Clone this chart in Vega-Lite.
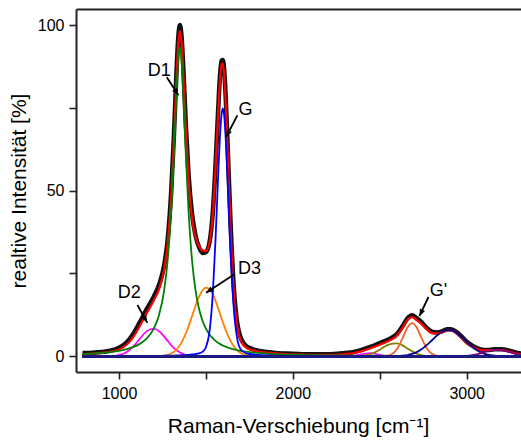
{
  "$schema": "https://vega.github.io/schema/vega-lite/v6.json",
  "width": 445,
  "height": 363,
  "autosize": {"type": "none"},
  "padding": {"left": 76, "top": 9, "right": 0, "bottom": 69},
  "background": "white",
  "config": {
    "view": {"stroke": null},
    "font": "Liberation Sans",
    "axis": {
      "grid": false,
      "domainColor": "#222222",
      "domainWidth": 2,
      "tickColor": "#222222",
      "tickWidth": 1.6,
      "labelColor": "black",
      "labelFont": "Liberation Sans",
      "labelFontSize": 16,
      "titleColor": "black",
      "titleFont": "Liberation Sans",
      "titleFontSize": 21,
      "titleFontWeight": "normal"
    }
  },
  "datasets": {
    "s": [
      {"x":790,"meas":1.0,"fit":0.68,"D1":0.65,"G":0.03},
      {"x":850,"meas":1.1,"fit":0.85,"D1":0.82,"G":0.03},
      {"x":900,"meas":1.3,"fit":1.06,"D1":1.01,"G":0.04,"D2":0.01},
      {"x":950,"meas":1.7,"fit":1.37,"D1":1.27,"G":0.04,"D2":0.06},
      {"x":1000,"meas":2.6,"fit":2.07,"D1":1.65,"G":0.05,"D2":0.37},
      {"x":1040,"meas":4.0,"fit":3.33,"D1":2.10,"G":0.06,"D2":1.17},
      {"x":1080,"meas":6.6,"fit":5.66,"D1":2.75,"G":0.07,"D2":2.84},
      {"x":1120,"meas":10.3,"fit":9.14,"D1":3.75,"G":0.09,"D2":5.30},
      {"x":1160,"meas":14.3,"fit":13.09,"D1":5.39,"G":0.10,"D2":7.60},
      {"x":1200,"meas":18.0,"fit":16.86,"D1":8.35,"G":0.11,"D2":8.38,"D3":0.02},
      {"x":1230,"meas":21.5,"fit":20.21,"D1":12.42,"G":0.13,"D2":7.60,"D3":0.06},
      {"x":1260,"meas":27.5,"fit":26.32,"D1":20.01,"G":0.16,"D2":5.94,"D3":0.21},
      {"x":1280,"meas":35.3,"fit":34.26,"D1":29.02,"G":0.18,"D2":4.64,"D3":0.42},
      {"x":1300,"meas":49.5,"fit":48.23,"D1":43.81,"G":0.20,"D2":3.39,"D3":0.83},
      {"x":1315,"meas":65.5,"fit":64.17,"D1":60.07,"G":0.22,"D2":2.57,"D3":1.31},
      {"x":1330,"meas":85.0,"fit":83.21,"D1":79.08,"G":0.25,"D2":1.88,"D3":2.00},
      {"x":1340,"meas":95.5,"fit":93.71,"D1":89.35,"G":0.27,"D2":1.49,"D3":2.60},
      {"x":1350,"meas":100.0,"fit":98.19,"D1":93.4,"G":0.29,"D2":1.17,"D3":3.33},
      {"x":1360,"meas":96.5,"fit":94.75,"D1":89.35,"G":0.31,"D2":0.90,"D3":4.19},
      {"x":1370,"meas":87.0,"fit":85.30,"D1":79.08,"G":0.34,"D2":0.68,"D3":5.20},
      {"x":1385,"meas":69.5,"fit":67.86,"D1":60.07,"G":0.38,"D2":0.43,"D3":6.98},
      {"x":1400,"meas":55.0,"fit":53.56,"D1":43.81,"G":0.44,"D2":0.27,"D3":9.04},
      {"x":1420,"meas":43.0,"fit":41.80,"D1":29.02,"G":0.55,"D2":0.13,"D3":12.1},
      {"x":1440,"meas":36.5,"fit":35.93,"D1":20.01,"G":0.68,"D2":0.06,"D3":15.18},
      {"x":1460,"meas":33.0,"fit":33.26,"D1":14.42,"G":0.90,"D2":0.03,"D3":17.91},
      {"x":1480,"meas":31.2,"fit":32.01,"D1":10.80,"G":1.34,"D2":0.01,"D3":19.86},
      {"x":1500,"meas":31.5,"fit":31.76,"D1":8.35,"G":2.72,"D3":20.69},
      {"x":1520,"meas":34.2,"fit":34.14,"D1":6.63,"G":7.27,"D3":20.24},
      {"x":1540,"meas":43.8,"fit":43.29,"D1":5.39,"G":19.3,"D3":18.6},
      {"x":1555,"meas":57.5,"fit":56.43,"D1":4.67,"G":35.0,"D3":16.76},
      {"x":1570,"meas":74.0,"fit":72.76,"D1":4.08,"G":54.1,"D3":14.58},
      {"x":1580,"meas":84.0,"fit":82.37,"D1":3.75,"G":65.6,"D3":13.02},
      {"x":1590,"meas":89.2,"fit":88.0,"D1":3.45,"G":73.1,"D3":11.45},
      {"x":1597,"meas":89.4,"fit":88.43,"D1":3.26,"G":74.8,"D3":10.37},
      {"x":1605,"meas":86.5,"fit":84.86,"D1":3.07,"G":72.6,"D3":9.19},
      {"x":1615,"meas":76.8,"fit":75.22,"D1":2.85,"G":64.6,"D3":7.77},
      {"x":1625,"meas":63.5,"fit":61.92,"D1":2.65,"G":52.8,"D3":6.47},
      {"x":1640,"meas":42.5,"fit":40.97,"D1":2.39,"G":33.8,"D3":4.78},
      {"x":1660,"meas":21.0,"fit":19.72,"D1":2.10,"G":14.6,"D3":3.02},
      {"x":1680,"meas":10.0,"fit":8.99,"D1":1.86,"G":5.34,"D3":1.79},
      {"x":1700,"meas":5.6,"fit":4.77,"D1":1.65,"G":2.12,"D3":1.00},
      {"x":1730,"meas":3.2,"fit":2.74,"D1":1.41,"G":0.96,"D3":0.37},
      {"x":1760,"meas":2.3,"fit":1.97,"D1":1.21,"G":0.64,"D3":0.12},
      {"x":1800,"meas":1.7,"fit":1.45,"D1":1.01,"G":0.42,"D3":0.02},
      {"x":1850,"meas":1.3,"fit":1.09,"D1":0.82,"G":0.27},
      {"x":1900,"meas":1.0,"fit":0.87,"D1":0.68,"G":0.19},
      {"x":2000,"meas":0.8,"fit":0.60,"D1":0.49,"G":0.11},
      {"x":2100,"meas":0.6,"fit":0.44,"D1":0.37,"G":0.07},
      {"x":2200,"meas":0.6,"fit":0.40,"D1":0.28,"G":0.05},
      {"x":2300,"meas":1.0,"fit":0.7,"D1":0.23,"G":0.04,"mag2":0.01,"olive":0.0},
      {"x":2350,"meas":1.3,"fit":1.0,"D1":0.21,"mag2":0.14,"olive":0.02},
      {"x":2400,"meas":2.0,"fit":1.6,"D1":0.19,"mag2":0.67,"olive":0.15},
      {"x":2450,"meas":2.9,"fit":2.5,"D1":0.18,"mag2":0.98,"olive":0.69,"Gp":0.0},
      {"x":2500,"meas":4.0,"fit":3.5,"D1":0.16,"mag2":0.41,"olive":1.99,"Gp":0.01},
      {"x":2550,"meas":5.1,"fit":4.6,"D1":0.15,"mag2":0.05,"olive":3.55,"Gp":0.25,"navy":0.01},
      {"x":2600,"meas":6.8,"fit":6.3,"D1":0.13,"mag2":0.0,"olive":3.91,"Gp":2.28,"navy":0.06},
      {"x":2630,"meas":9.0,"fit":8.6,"D1":0.12,"olive":3.29,"Gp":5.34,"navy":0.16},
      {"x":2660,"meas":11.5,"fit":11.0,"D1":0.12,"olive":2.33,"Gp":8.74,"navy":0.37},
      {"x":2686,"meas":12.4,"fit":11.8,"D1":0.11,"olive":1.49,"Gp":10.0,"navy":0.71},
      {"x":2710,"meas":11.6,"fit":11.0,"D1":0.11,"olive":0.89,"Gp":8.91,"navy":1.20},
      {"x":2740,"meas":10.3,"fit":9.8,"D1":0.10,"olive":0.39,"Gp":5.58,"navy":2.11},
      {"x":2770,"meas":8.6,"fit":8.2,"D1":0.10,"olive":0.15,"Gp":2.44,"navy":3.37},
      {"x":2800,"meas":7.4,"fit":7.0,"D1":0.10,"olive":0.05,"Gp":0.74,"navy":4.85},
      {"x":2830,"meas":7.2,"fit":6.9,"D1":0.10,"olive":0.01,"Gp":0.16,"navy":6.33},
      {"x":2860,"meas":7.6,"fit":7.3,"D1":0.09,"olive":0.0,"Gp":0.02,"navy":7.48,"purple":0.0},
      {"x":2890,"meas":8.2,"fit":7.8,"D1":0.09,"navy":7.99,"purple":0.0},
      {"x":2910,"meas":8.2,"fit":7.8,"D1":0.09,"navy":7.90,"purple":0.01},
      {"x":2940,"meas":7.4,"fit":7.1,"D1":0.09,"navy":7.15,"purple":0.02},
      {"x":2970,"meas":6.0,"fit":5.6,"D1":0.08,"navy":5.86,"purple":0.05},
      {"x":3000,"meas":4.4,"fit":4.0,"D1":0.08,"navy":4.34,"purple":0.13},
      {"x":3040,"meas":3.0,"fit":2.7,"D1":0.08,"navy":2.50,"purple":0.40},
      {"x":3080,"meas":2.1,"fit":1.9,"D1":0.07,"navy":1.20,"purple":0.90},
      {"x":3120,"meas":1.9,"fit":1.8,"D1":0.07,"navy":0.48,"purple":1.53},
      {"x":3160,"meas":2.1,"fit":1.9,"D1":0.07,"navy":0.16,"purple":1.96},
      {"x":3200,"meas":2.1,"fit":1.9,"D1":0.06,"navy":0.05,"purple":1.89},
      {"x":3240,"meas":1.8,"fit":1.5,"D1":0.06,"navy":0.01,"purple":1.37},
      {"x":3280,"meas":1.2,"fit":0.9,"D1":0.06,"navy":0.0,"purple":0.75},
      {"x":3320,"meas":0.8,"fit":0.5,"D1":0.05,"purple":0.31}
    ],
    "ann": [
      {"label":"D1","tx":1231,"ty":84.5,"x1":1275,"y1":84.2,"x2":1342,"y2":78.8},
      {"label":"G","tx":1728,"ty":72.7,"x1":1681,"y1":72.7,"x2":1616,"y2":66.2},
      {"label":"D2","tx":1059,"ty":17.5,"x1":1106,"y1":15.5,"x2":1163,"y2":10.1},
      {"label":"D3","tx":1750,"ty":24.8,"x1":1664,"y1":24.8,"x2":1501,"y2":19.2},
      {"label":"G'","tx":2838,"ty":18.2,"x1":2780,"y1":17.9,"x2":2728,"y2":12.1}
    ]
  },
  "data": {"name": "s"},
  "resolve": {"axis": {"x": "independent", "y": "independent"}},
  "layer": [
    {
      "mark": {"type": "line", "color": "#111111", "strokeWidth": 4.5, "interpolate": "monotone", "clip": true},
      "encoding": {
        "x": {"field": "x", "type": "quantitative",
              "scale": {"domain": [752.7, 3312.3], "nice": false, "zero": false},
              "axis": {"orient": "bottom", "values": [1000, 1500, 2000, 2500, 3000], "format": "d",
                       "labelExpr": "datum.value % 1000 === 0 ? datum.label : ''",
                       "tickSize": 7,
                       "labelPadding": 6,
                       "title": "Raman-Verschiebung [cm⁻¹]", "titleX": 222, "titleY": 60.3,
                       "titleBaseline": "alphabetic", "titleAlign": "center", "titleAnchor": null}},
        "y": {"field": "meas", "type": "quantitative",
              "scale": {"domain": [-4.74, 104.83], "nice": false, "zero": false},
              "axis": {"orient": "left", "values": [0, 25, 50, 75, 100],
                       "labelExpr": "datum.value % 50 === 0 ? datum.label : ''",
                       "tickSize": 7,
                       "labelPadding": 5,
                       "title": "realtive Intensität [%]", "titleX": -51, "titleY": 181.5, "titleAngle": -90,
                       "titleBaseline": "alphabetic", "titleAlign": "center", "titleAnchor": null}}
      }
    },
    {
      "mark": {"type": "line", "color": "#ff0000", "strokeWidth": 2.2, "interpolate": "monotone", "clip": true},
      "encoding": {
        "x": {"field": "x", "type": "quantitative", "axis": {"orient": "top", "labels": false, "ticks": false, "domain": true, "title": null}},
        "y": {"field": "fit", "type": "quantitative", "axis": null}
      }
    },
    {
      "mark": {"type": "line", "color": "#ff00ff", "strokeWidth": 1.8, "interpolate": "monotone", "clip": true},
      "encoding": {
        "x": {"field": "x", "type": "quantitative", "axis": null},
        "y": {"field": "D2", "type": "quantitative", "axis": null}
      }
    },
    {
      "mark": {"type": "line", "color": "#ff8000", "strokeWidth": 1.8, "interpolate": "monotone", "clip": true},
      "encoding": {
        "x": {"field": "x", "type": "quantitative", "axis": null},
        "y": {"field": "D3", "type": "quantitative", "axis": null}
      }
    },
    {
      "mark": {"type": "line", "color": "#008000", "strokeWidth": 1.8, "interpolate": "monotone", "clip": true},
      "encoding": {
        "x": {"field": "x", "type": "quantitative", "axis": null},
        "y": {"field": "D1", "type": "quantitative", "axis": null}
      }
    },
    {
      "mark": {"type": "line", "color": "#0000ff", "strokeWidth": 1.8, "interpolate": "monotone", "clip": true},
      "encoding": {
        "x": {"field": "x", "type": "quantitative", "axis": null},
        "y": {"field": "G", "type": "quantitative", "axis": null}
      }
    },
    {
      "mark": {"type": "line", "color": "#ff00ff", "strokeWidth": 1.6, "interpolate": "monotone", "clip": true},
      "encoding": {
        "x": {"field": "x", "type": "quantitative", "axis": null},
        "y": {"field": "mag2", "type": "quantitative", "axis": null}
      }
    },
    {
      "mark": {"type": "line", "color": "#808000", "strokeWidth": 1.8, "interpolate": "monotone", "clip": true},
      "encoding": {
        "x": {"field": "x", "type": "quantitative", "axis": null},
        "y": {"field": "olive", "type": "quantitative", "axis": null}
      }
    },
    {
      "mark": {"type": "line", "color": "#f0622d", "strokeWidth": 1.8, "interpolate": "monotone", "clip": true},
      "encoding": {
        "x": {"field": "x", "type": "quantitative", "axis": null},
        "y": {"field": "Gp", "type": "quantitative", "axis": null}
      }
    },
    {
      "mark": {"type": "line", "color": "#000090", "strokeWidth": 1.8, "interpolate": "monotone", "clip": true},
      "encoding": {
        "x": {"field": "x", "type": "quantitative", "axis": null},
        "y": {"field": "navy", "type": "quantitative", "axis": null}
      }
    },
    {
      "mark": {"type": "line", "color": "#800080", "strokeWidth": 1.8, "interpolate": "monotone", "clip": true},
      "encoding": {
        "x": {"field": "x", "type": "quantitative", "axis": null},
        "y": {"field": "purple", "type": "quantitative", "axis": null}
      }
    },
    {
      "mark": {"type": "rule", "color": "#1a1a80", "strokeWidth": 2.6, "clip": true},
      "encoding": {
        "x": {"datum": 790, "type": "quantitative", "axis": null},
        "x2": {"datum": 3320},
        "y": {"datum": 0, "type": "quantitative", "axis": null}
      }
    },
    {
      "data": {"name": "ann"},
      "mark": {"type": "rule", "color": "black", "strokeWidth": 1.8},
      "encoding": {
        "x": {"field": "x1", "type": "quantitative", "axis": null},
        "y": {"field": "y1", "type": "quantitative", "axis": null},
        "x2": {"field": "x2"},
        "y2": {"field": "y2"}
      }
    },
    {
      "data": {"name": "ann"},
      "transform": [{"filter": "datum.label == 'D1'"}],
      "mark": {"type": "point", "shape": "M0,0L-0.4,1L0.4,1Z", "filled": true, "color": "black", "opacity": 1, "size": 200, "angle": 146.8},
      "encoding": {
        "x": {"field": "x2", "type": "quantitative", "axis": null},
        "y": {"field": "y2", "type": "quantitative", "axis": null}
      }
    },
    {
      "data": {"name": "ann"},
      "transform": [{"filter": "datum.label == 'G'"}],
      "mark": {"type": "point", "shape": "M0,0L-0.4,1L0.4,1Z", "filled": true, "color": "black", "opacity": 1, "size": 200, "angle": 207.5},
      "encoding": {
        "x": {"field": "x2", "type": "quantitative", "axis": null},
        "y": {"field": "y2", "type": "quantitative", "axis": null}
      }
    },
    {
      "data": {"name": "ann"},
      "transform": [{"filter": "datum.label == 'D2'"}],
      "mark": {"type": "point", "shape": "M0,0L-0.4,1L0.4,1Z", "filled": true, "color": "black", "opacity": 1, "size": 200, "angle": 150.5},
      "encoding": {
        "x": {"field": "x2", "type": "quantitative", "axis": null},
        "y": {"field": "y2", "type": "quantitative", "axis": null}
      }
    },
    {
      "data": {"name": "ann"},
      "transform": [{"filter": "datum.label == 'D3'"}],
      "mark": {"type": "point", "shape": "M0,0L-0.4,1L0.4,1Z", "filled": true, "color": "black", "opacity": 1, "size": 200, "angle": 237},
      "encoding": {
        "x": {"field": "x2", "type": "quantitative", "axis": null},
        "y": {"field": "y2", "type": "quantitative", "axis": null}
      }
    },
    {
      "data": {"name": "ann"},
      "transform": [{"filter": "datum.label == \"G'\""}],
      "mark": {"type": "point", "shape": "M0,0L-0.4,1L0.4,1Z", "filled": true, "color": "black", "opacity": 1, "size": 200, "angle": 205.3},
      "encoding": {
        "x": {"field": "x2", "type": "quantitative", "axis": null},
        "y": {"field": "y2", "type": "quantitative", "axis": null}
      }
    },
    {
      "data": {"name": "ann"},
      "mark": {"type": "text", "font": "Liberation Sans", "fontSize": 18, "color": "black", "align": "center", "baseline": "alphabetic"},
      "encoding": {
        "x": {"field": "tx", "type": "quantitative", "axis": null},
        "y": {"field": "ty", "type": "quantitative", "axis": null},
        "text": {"field": "label"}
      }
    }
  ]
}
